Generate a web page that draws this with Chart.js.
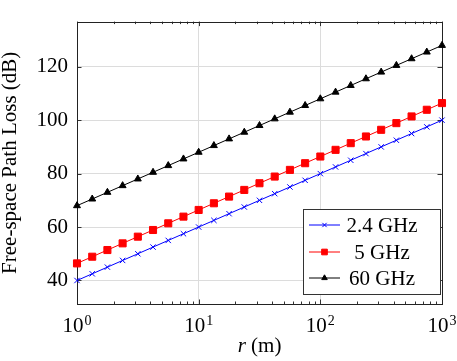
<!DOCTYPE html>
<html>
<head>
<meta charset="utf-8">
<script src="https://cdn.jsdelivr.net/npm/chart.js@4.4.1/dist/chart.umd.min.js"></script>
<style>
  html, body { margin: 0; padding: 0; background: #fff; }
</style>
</head>
<body>
<canvas id="grafico" width="457" height="361"></canvas>
<script>
// distancia r (m), 8 puntos por década
const radios = [1, 1.334, 1.778, 2.371, 3.162, 4.217, 5.623, 7.499,
  10, 13.34, 17.78, 23.71, 31.62, 42.17, 56.23, 74.99,
  100, 133.4, 177.8, 237.1, 316.2, 421.7, 562.3, 749.9, 1000];

// pérdidas (dB)
const perdida24 = [40.0, 42.5, 45.0, 47.5, 50.0, 52.5, 55.0, 57.5, 60.0, 62.5, 65.0, 67.5,
  70.0, 72.5, 75.0, 77.5, 80.0, 82.5, 85.0, 87.5, 90.0, 92.5, 95.0, 97.5, 100.0];
const perdida5 = [46.4, 48.9, 51.4, 53.9, 56.4, 58.9, 61.4, 63.9, 66.4, 68.9, 71.4, 73.9,
  76.4, 78.9, 81.4, 83.9, 86.4, 88.9, 91.4, 93.9, 96.4, 98.9, 101.4, 103.9, 106.4];
const perdida60 = [68.0, 70.5, 73.0, 75.5, 78.0, 80.5, 83.0, 85.5, 88.0, 90.5, 93.0, 95.5,
  98.0, 100.5, 103.0, 105.5, 108.0, 110.5, 113.0, 115.5, 118.0, 120.5, 123.0, 125.5, 128.0];

const etiquetas = ["2.4 GHz", "5 GHz", "60 GHz"];
const ticksX = [1, 10, 100, 1000];
const exponentesX = ["0", "1", "2", "3"];
const ticksY = [40, 60, 80, 100, 120];

const FUENTE = "'Liberation Serif', 'DejaVu Serif', serif";

function serie(valores) {
  return radios.map((r, i) => ({ x: r, y: valores[i] }));
}

// marco, marcas de los ejes, etiquetas 10^n y leyenda al estilo pgfplots
const marcoPlugin = {
  id: "marco",
  beforeDatasetsDraw(chart) {
    const { ctx, chartArea: a, scales } = chart;
    ctx.save();
    ctx.strokeStyle = "#333";
    ctx.lineWidth = 1;
    ctx.beginPath();
    // marcas menores en x
    for (let d = 1; d < 1000; d *= 10) {
      for (let m = 2; m <= 9; m++) {
        const px = Math.round(scales.x.getPixelForValue(m * d)) + 0.5;
        ctx.moveTo(px, a.bottom); ctx.lineTo(px, a.bottom - 2.5);
        ctx.moveTo(px, a.top); ctx.lineTo(px, a.top + 2.5);
      }
    }
    ticksX.forEach(v => {
      const px = Math.round(scales.x.getPixelForValue(v)) + 0.5;
      ctx.moveTo(px, a.bottom); ctx.lineTo(px, a.bottom - 4.5);
      ctx.moveTo(px, a.top); ctx.lineTo(px, a.top + 4.5);
    });
    ticksY.forEach(v => {
      const py = Math.round(scales.y.getPixelForValue(v)) + 0.5;
      ctx.moveTo(a.left, py); ctx.lineTo(a.left + 4.5, py);
      ctx.moveTo(a.right, py); ctx.lineTo(a.right - 4.5, py);
    });
    ctx.stroke();
    ctx.strokeStyle = "#222";
    ctx.strokeRect(Math.round(a.left) + 0.5, Math.round(a.top) + 0.5,
      Math.round(a.right - a.left), Math.round(a.bottom - a.top));
    ctx.restore();
  },
  afterDraw(chart) {
    const { ctx, chartArea: a, scales } = chart;
    ctx.save();
    ctx.fillStyle = "#000";
    ctx.textBaseline = "alphabetic";
    ctx.textAlign = "left";

    // etiquetas del eje x: 10 con exponente
    ticksX.forEach((v, i) => {
      const px = scales.x.getPixelForValue(v);
      ctx.font = "21px " + FUENTE;
      const wb = ctx.measureText("10").width;
      ctx.font = "14px " + FUENTE;
      const we = ctx.measureText(exponentesX[i]).width;
      const x0 = px - (wb + we + 1) / 2;
      ctx.font = "21px " + FUENTE;
      ctx.fillText("10", x0, 332);
      ctx.font = "14px " + FUENTE;
      ctx.fillText(exponentesX[i], x0 + wb + 1, 325);
    });

    // título del eje x: r en cursiva
    const cx = (a.left + a.right) / 2;
    ctx.font = "italic 21px " + FUENTE;
    const wr = ctx.measureText("r").width;
    ctx.font = "21px " + FUENTE;
    const wm = ctx.measureText(" (m)").width;
    const x0 = cx - (wr + wm) / 2;
    ctx.font = "italic 21px " + FUENTE;
    ctx.fillText("r", x0, 352);
    ctx.font = "21px " + FUENTE;
    ctx.fillText(" (m)", x0 + wr, 352);

    // leyenda
    const bx = 303.5, by = 209.5, bw = 137, bh = 85;
    ctx.fillStyle = "#fff";
    ctx.fillRect(bx, by, bw, bh);
    ctx.strokeStyle = "#333";
    ctx.lineWidth = 1;
    ctx.strokeRect(bx, by, bw, bh);
    const filas = [225, 252, 278];
    chart.data.datasets.forEach((ds, i) => {
      const y = filas[i];
      ctx.strokeStyle = ds.borderColor;
      ctx.lineWidth = 1;
      ctx.beginPath();
      ctx.moveTo(309, y); ctx.lineTo(340, y);
      ctx.stroke();
      ctx.fillStyle = ds.pointBackgroundColor;
      ctx.strokeStyle = ds.pointBorderColor;
      ctx.lineWidth = ds.pointBorderWidth;
      Chart.helpers.drawPoint(ctx, {
        pointStyle: ds.pointStyle, radius: ds.pointRadius * 0.8,
        rotation: 0, borderWidth: ds.pointBorderWidth
      }, 324.5, y);
      ctx.fillStyle = "#000";
      ctx.font = "21px " + FUENTE;
      ctx.textAlign = "center";
      ctx.textBaseline = "middle";
      ctx.fillText(ds.label, 382, y + 1);
    });
    ctx.restore();
  }
};

const ctx = document.getElementById("grafico").getContext("2d");

new Chart(ctx, {
  type: "line",
  data: {
    datasets: [
      {
        label: etiquetas[0], data: serie(perdida24),
        borderColor: "#0000ff", borderWidth: 1,
        pointStyle: "crossRot", pointRadius: 3.8,
        pointBorderColor: "#0000ff", pointBackgroundColor: "#0000ff", pointBorderWidth: 1,
        clip: false
      },
      {
        label: etiquetas[1], data: serie(perdida5),
        borderColor: "#ff0000", borderWidth: 1,
        pointStyle: "rect", pointRadius: 5,
        pointBorderColor: "#ff0000", pointBackgroundColor: "#ff0000", pointBorderWidth: 1,
        clip: false
      },
      {
        label: etiquetas[2], data: serie(perdida60),
        borderColor: "#000000", borderWidth: 1,
        pointStyle: "triangle", pointRadius: 4,
        pointBorderColor: "#000000", pointBackgroundColor: "#000000", pointBorderWidth: 1,
        clip: false
      }
    ]
  },
  options: {
    responsive: false,
    animation: false,
    layout: { padding: { left: 0, right: 15, top: 2, bottom: 0 } },
    plugins: {
      legend: { display: false },
      tooltip: { enabled: false }
    },
    elements: { line: { tension: 0 } },
    scales: {
      x: {
        type: "logarithmic",
        min: 1, max: 1000,
        afterBuildTicks: s => { s.ticks = ticksX.map(v => ({ value: v })); },
        afterFit: s => { s.height = 57; },
        border: { display: false },
        grid: { color: "#dcdcdc", lineWidth: 1, drawTicks: false },
        ticks: { display: false }
      },
      y: {
        type: "linear",
        min: 31.2, max: 136.9,
        afterBuildTicks: s => { s.ticks = ticksY.map(v => ({ value: v })); },
        afterFit: s => { s.width = 77; },
        border: { display: false },
        grid: { color: "#dcdcdc", lineWidth: 1, drawTicks: false },
        ticks: {
          padding: 9, color: "#000",
          font: { family: FUENTE, size: 21 }
        },
        title: {
          display: true, text: "Free-space Path Loss (dB)", color: "#000",
          padding: { top: 0, bottom: 0 },
          font: { family: FUENTE, size: 21, lineHeight: 1.0 }
        }
      }
    }
  },
  plugins: [marcoPlugin]
});
</script>
</body>
</html>
